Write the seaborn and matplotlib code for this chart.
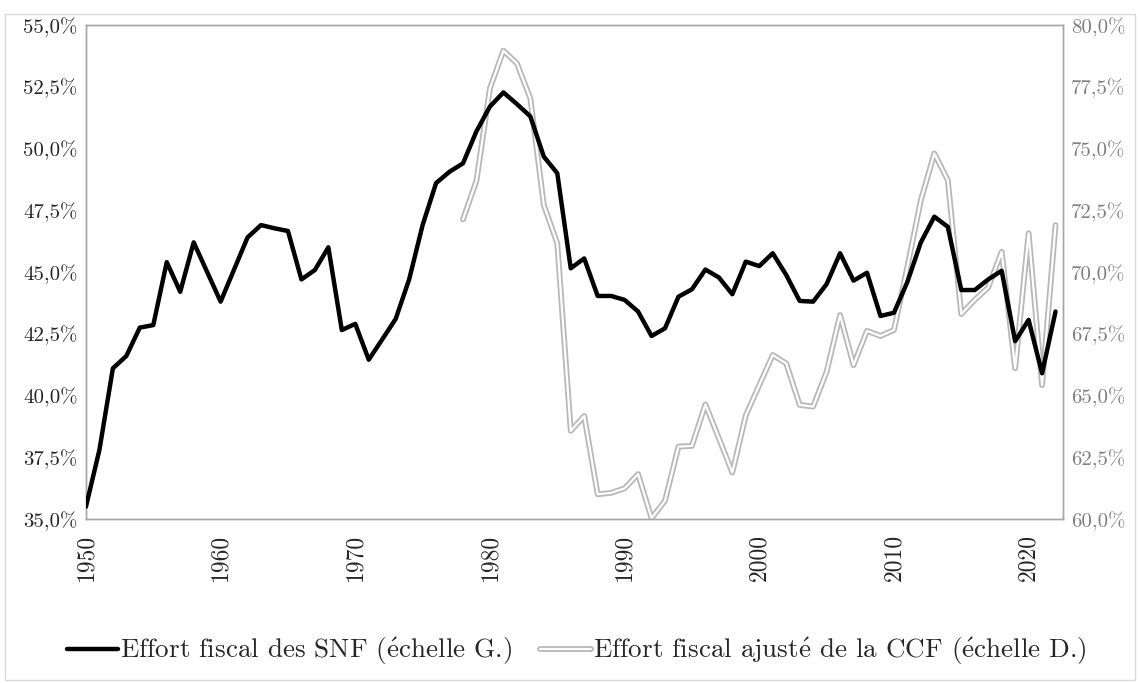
import numpy as np
import pandas as pd
import matplotlib
matplotlib.use("Agg")
import matplotlib.pyplot as plt
import seaborn as sns
from matplotlib.legend_handler import HandlerTuple

# Effort fiscal des SNF (left axis, %)
years = list(range(1950, 2023))
snf = [35.5, 37.8, 41.1, 41.6, 42.75, 42.85, 45.4, 44.2, 46.2, 45.0,
       43.8, 45.1, 46.4, 46.9, 46.77, 46.66, 44.7, 45.08, 46.0, 42.65,
       42.9, 41.45, 42.27, 43.1, 44.7, 46.9, 48.6, 49.06, 49.4, 50.7,
       51.7, 52.27, 51.8, 51.3, 49.67, 49.0, 45.15, 45.55, 44.03, 44.03,
       43.87, 43.4, 42.41, 42.72, 44.0, 44.3, 45.1, 44.78, 44.1, 45.42,
       45.24, 45.76, 44.88, 43.83, 43.8, 44.51, 45.76, 44.65, 44.97, 43.22,
       43.35, 44.6, 46.2, 47.24, 46.83, 44.27, 44.27, 44.7, 45.05, 42.2,
       43.06, 40.9, 43.4]

# Effort fiscal ajusté de la CCF (right axis, %), from 1978
ccf_years = list(range(1978, 2023))
ccf = [72.13, 73.7, 77.44, 78.96, 78.45, 77.03, 72.71, 71.16, 63.57, 64.17,
       61.0, 61.06, 61.24, 61.82, 60.03, 60.74, 62.93, 62.96, 64.64, 63.27,
       61.88, 64.2, 65.42, 66.64, 66.3, 64.62, 64.55, 65.96, 68.26, 66.23,
       67.62, 67.41, 67.65, 70.21, 72.91, 74.8, 73.72, 68.3, 68.87, 69.37,
       70.82, 66.1, 71.57, 65.42, 71.9]

left_ticks = [35.0, 37.5, 40.0, 42.5, 45.0, 47.5, 50.0, 52.5, 55.0]
right_ticks = [60.0, 62.5, 65.0, 67.5, 70.0, 72.5, 75.0, 77.5, 80.0]
x_ticks = [1950, 1960, 1970, 1980, 1990, 2000, 2010, 2020]

# é written through mathtext so it stays in Computer Modern
e_acute = r"$\mathrm{\acute{e}}$"
label_snf = "Effort fiscal des SNF (" + e_acute + "chelle G.)"
label_ccf = "Effort fiscal ajust" + e_acute + " de la CCF (" + e_acute + "chelle D.)"

sns.set_style("white")
plt.rcParams['font.family'] = ['cmr10', 'DejaVu Serif']
plt.rcParams['mathtext.fontset'] = 'cm'
plt.rcParams['axes.unicode_minus'] = False

df1 = pd.DataFrame({'year': years, 'val': snf})
df2 = pd.DataFrame({'year': ccf_years, 'val': ccf})

fig = plt.figure(figsize=(11.4, 6.83), dpi=100)
ax = fig.add_axes([0.0754, 0.2401, 0.857, 0.7233])
ax2 = ax.twinx()

sns.lineplot(data=df1, x='year', y='val', ax=ax, color='black', lw=3.2, zorder=3)
sns.lineplot(data=df2, x='year', y='val', ax=ax2, color='#b8b8b8', lw=4.2, zorder=1)
sns.lineplot(data=df2, x='year', y='val', ax=ax2, color='white', lw=1.6, zorder=2)

# black line on top of the twin axes
ax.set_zorder(ax2.get_zorder() + 1)
ax.patch.set_visible(False)

ax.set_xlim(1950, 2022.55)
ax.set_ylim(35, 55)
ax2.set_ylim(60, 80)

ax.set_yticks(left_ticks)
ax.set_yticklabels([f"{v:.1f}%".replace('.', ',') for v in left_ticks], fontsize=15)
ax2.set_yticks(right_ticks)
ax2.set_yticklabels([f"{v:.1f}%".replace('.', ',') for v in right_ticks], fontsize=15,
                    color='#7f7f7f')
ax.set_xticks(x_ticks)
ax.set_xticklabels([str(v) for v in x_ticks], rotation=90, fontsize=17)
ax.tick_params(axis='y', length=0, pad=6)
ax.tick_params(axis='x', length=0, pad=11)
ax2.tick_params(axis='y', length=0, pad=6)
ax.set_xlabel('')
ax.set_ylabel('')
ax2.set_ylabel('')

for a in (ax, ax2):
    for s in a.spines.values():
        s.set_color('#a6a6a6')
        s.set_linewidth(1.0)

# legend
h1 = plt.Line2D([], [], color='black', lw=3.2)
h2a = plt.Line2D([], [], color='#b8b8b8', lw=4.2)
h2b = plt.Line2D([], [], color='white', lw=1.6)
fig.legend([h1, (h2a, h2b)], [label_snf, label_ccf],
           handler_map={tuple: HandlerTuple(ndivide=1, pad=0)},
           loc='center', bbox_to_anchor=(0.506, 0.046), ncol=2, frameon=False,
           fontsize=19.5, handlelength=1.9, handletextpad=0.08, columnspacing=1.0)

# outer chart border
fig.patches.append(plt.Rectangle((0.004, 0.004), 0.992, 0.975, transform=fig.transFigure,
                                 fill=False, edgecolor='#d9d9d9', lw=1))

fig.savefig('out.png', dpi=100)
